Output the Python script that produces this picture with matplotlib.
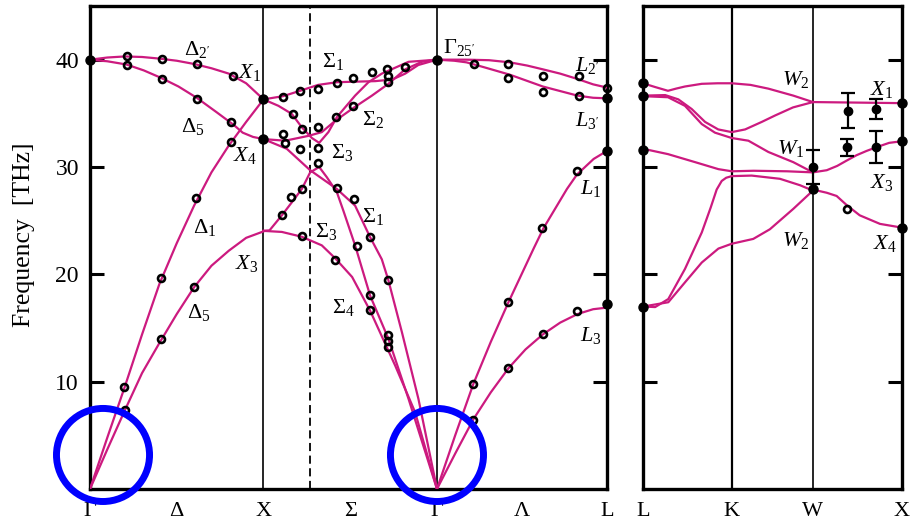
import matplotlib
matplotlib.use("Agg")
import matplotlib.pyplot as plt

plt.rcParams['font.family'] = 'serif'
plt.rcParams['font.serif'] = ['Liberation Serif', 'DejaVu Serif']
plt.rcParams['mathtext.fontset'] = 'custom'
plt.rcParams['mathtext.rm'] = 'Liberation Serif'
plt.rcParams['mathtext.it'] = 'Liberation Serif:italic'

PINK = '#cc1a7f'

# ---- path Gamma - X - K - Gamma - L (left panel), x in path units ----
left_ticks = [0.0, 0.5, 1.0, 1.5, 2.0, 2.49, 2.98]
left_tick_labels = ['Γ', 'Δ', 'X', 'Σ', 'Γ', 'Λ', 'L']
x_X, x_K, x_G, x_L = 1.0, 1.269, 2.0, 2.98

# Delta branches (Gamma -> X)
dlo_x = [0, 0.1, 0.2, 0.3, 0.4, 0.5, 0.6, 0.7, 0.8, 0.9, 1.0]
dlo_f = [40.0, 40.2, 40.3, 40.25, 40.1, 39.9, 39.6, 39.2, 38.7, 37.8, 36.3]
dto_x = [0, 0.1, 0.21, 0.31, 0.41, 0.51, 0.615, 0.73, 0.83, 0.88, 0.94, 1.0]
dto_f = [40.0, 39.85, 39.55, 39.0, 38.3, 37.5, 36.45, 35.1, 33.9, 33.2, 32.8, 32.6]
dla_x = [0, 0.1, 0.2, 0.3, 0.4, 0.5, 0.6, 0.7, 0.8, 0.9, 1.0]
dla_f = [0, 4.8, 9.5, 14.4, 19.1, 22.9, 26.4, 29.5, 32.0, 34.2, 36.3]
dta_x = [0, 0.1, 0.2, 0.3, 0.4, 0.5, 0.6, 0.7, 0.8, 0.9, 1.0]
dta_f = [0, 3.7, 7.3, 10.8, 13.6, 16.3, 18.8, 20.8, 22.2, 23.4, 24.0]

# Sigma branches (X -> K -> Gamma)
sa_x = [1.0, 1.113, 1.211, 1.315, 1.424, 1.528, 1.644, 1.742, 1.817, 1.892, 2.0]
sa_f = [36.3, 36.6, 37.1, 37.65, 37.9, 37.95, 38.0, 38.15, 38.7, 39.5, 40.0]
sb_x = [1.0, 1.086, 1.163, 1.221, 1.279, 1.321, 1.374, 1.423, 1.528, 1.605, 1.682, 1.836, 2.0]
sb_f = [36.3, 35.7, 34.95, 33.7, 32.7, 32.25, 33.25, 34.65, 36.65, 37.9, 38.7, 39.8, 40.0]
sc_x = [1.0, 1.125, 1.259, 1.336, 1.413, 1.518, 1.625, 1.72, 1.817, 1.913, 2.0]
sc_f = [32.6, 32.45, 32.9, 33.25, 34.3, 35.5, 36.65, 37.75, 39.1, 39.8, 40.0]
sd_x = [1.0, 1.134, 1.269, 1.423, 1.528, 1.615, 1.682, 1.719, 1.798, 1.893, 2.0]
sd_f = [32.6, 31.7, 29.7, 27.95, 26.4, 23.45, 21.4, 19.5, 14.6, 8.4, 0]
se_x = [1.0, 1.035, 1.106, 1.163, 1.221, 1.269, 1.321, 1.365, 1.423, 1.461, 1.528, 1.615, 1.72, 1.836, 2.0]
se_f = [24.05, 24.1, 25.5, 26.7, 27.95, 29.5, 30.0, 29.05, 27.65, 25.9, 22.7, 18.0, 14.0, 8.4, 0]
sf_x = [1.0, 1.106, 1.221, 1.336, 1.413, 1.511, 1.615, 1.759, 1.874, 2.0]
sf_f = [24.05, 23.95, 23.5, 22.7, 21.5, 19.75, 16.6, 11.5, 7.15, 0]

# Lambda branches (Gamma -> L)
l2_x = [2.0, 2.17, 2.3, 2.42, 2.52, 2.61, 2.71, 2.81, 2.9, 2.98]
l2_f = [40.0, 40.0, 39.95, 39.75, 39.45, 39.1, 38.7, 38.2, 37.7, 37.4]
l3p_x = [2.0, 2.1, 2.17, 2.27, 2.42, 2.61, 2.81, 2.9, 2.98]
l3p_f = [40.0, 39.9, 39.75, 39.3, 38.6, 37.5, 36.65, 36.45, 36.4]
l1_x = [2.0, 2.105, 2.21, 2.31, 2.412, 2.557, 2.614, 2.749, 2.807, 2.903, 2.98]
l1_f = [0, 5.0, 9.8, 13.7, 17.4, 22.4, 24.3, 27.95, 29.3, 30.75, 31.5]
l3_x = [2.0, 2.105, 2.21, 2.31, 2.412, 2.51, 2.61, 2.71, 2.81, 2.9, 2.98]
l3_f = [0, 3.3, 6.5, 9.0, 11.25, 13.0, 14.4, 15.5, 16.3, 16.75, 16.9]

# measured points (open rings)
ring_x = [0.212, 0.212, 0.413, 0.413, 0.615, 0.615, 0.826, 0.813, 0.813, 0.611,
          0.409, 0.409, 0.6, 0.196, 0.202,
          1.115, 1.211, 1.317, 1.423, 1.518, 1.625, 1.711, 1.72, 1.72, 1.817,
          1.172, 1.221, 1.317, 1.419, 1.518, 1.115, 1.125, 1.211, 1.317, 1.317,
          1.221, 1.159, 1.106, 1.221, 1.413, 1.423, 1.524, 1.615, 1.538, 1.717,
          1.615, 1.615, 1.717, 1.717, 1.717,
          2.215, 2.407, 2.407, 2.611, 2.611, 2.816, 2.816, 2.807, 2.608, 2.412,
          2.21, 2.21, 2.412, 2.611, 2.807, 2.98]
ring_f = [40.3, 39.5, 40.1, 38.2, 39.6, 36.35, 38.5, 34.2, 32.3, 27.1,
          19.7, 14.0, 18.85, 9.5, 7.35,
          36.55, 37.1, 37.3, 37.85, 38.3, 38.85, 39.1, 38.45, 37.9, 39.3,
          34.95, 33.5, 33.7, 34.65, 35.65, 33.1, 32.25, 31.7, 31.75, 30.4,
          27.95, 27.25, 25.5, 23.55, 21.3, 28.0, 27.0, 23.45, 22.6, 19.5,
          18.1, 16.7, 14.35, 13.8, 13.2,
          39.55, 39.55, 38.3, 38.45, 36.95, 38.45, 36.6, 29.6, 24.3, 17.4,
          9.8, 6.45, 11.25, 14.45, 16.6, 37.4]
# measured points (solid) at the zone points
solid_x = [0.0, 1.0, 1.0, 2.0, 2.98, 2.98, 2.98]
solid_f = [40.0, 36.3, 32.6, 40.0, 36.4, 31.5, 17.2]

# ---- path L - K - W - X (right panel) ----
right_ticks = [0.0, 0.513, 0.98, 1.494]
right_tick_labels = ['L', 'K', 'W', 'X']

r1_x = [0, 0.07, 0.144, 0.19, 0.242, 0.339, 0.43, 0.512, 0.62, 0.723, 0.867, 0.98]
r1_f = [37.8, 37.45, 37.1, 37.3, 37.5, 37.75, 37.8, 37.8, 37.65, 37.3, 36.65, 36.05]
r2_x = [0, 0.128, 0.204, 0.281, 0.358, 0.434, 0.512, 0.589, 0.685, 0.762, 0.865, 0.98]
r2_f = [36.65, 36.7, 36.3, 35.4, 34.2, 33.5, 33.25, 33.5, 34.2, 34.8, 35.55, 36.05]
r3_x = [0, 0.144, 0.242, 0.339, 0.415, 0.512, 0.608, 0.723, 0.867, 0.98]
r3_f = [36.6, 36.5, 35.7, 34.0, 33.2, 32.7, 32.45, 31.4, 30.45, 29.5]
r4_x = [0, 0.144, 0.301, 0.435, 0.512, 0.638, 0.831, 0.98]
r4_f = [31.7, 31.2, 30.45, 29.8, 29.6, 29.65, 29.6, 29.5]
r5_x = [0, 0.07, 0.146, 0.242, 0.339, 0.39, 0.425, 0.454, 0.48, 0.512, 0.627, 0.79, 0.906, 0.98]
r5_f = [17.0, 16.95, 17.7, 20.5, 23.9, 26.2, 27.9, 28.7, 29.0, 29.15, 29.2, 28.9, 28.3, 27.8]
r6_x = [0, 0.146, 0.242, 0.339, 0.435, 0.512, 0.636, 0.732, 0.867, 0.98]
r6_f = [17.0, 17.4, 19.25, 21.1, 22.4, 22.85, 23.3, 24.2, 26.1, 27.8]
wx1_x = [0.98, 1.494]
wx1_f = [36.05, 35.95]
wx3_x = [0.98, 1.06, 1.12, 1.175, 1.232, 1.29, 1.348, 1.42, 1.494]
wx3_f = [29.5, 29.7, 30.1, 30.6, 31.1, 31.5, 31.85, 32.25, 32.4]
wx4_x = [0.98, 1.06, 1.117, 1.175, 1.25, 1.367, 1.494]
wx4_f = [27.9, 27.6, 27.3, 26.45, 25.5, 24.7, 24.35]

r_solid_x = [0, 0, 0, 0, 1.494, 1.494, 1.494, 0.98]
r_solid_f = [37.85, 36.6, 31.6, 17.0, 35.95, 32.4, 24.35, 27.95]
r_err_x = [0.98, 1.181, 1.343, 1.179, 1.343]
r_err_f = [30.0, 35.25, 35.4, 31.85, 31.85]
r_err = [1.6, 1.65, 0.9, 0.8, 1.5]
r_ring_x = [1.179]
r_ring_f = [26.1]

left_curves = [(dlo_x, dlo_f), (dto_x, dto_f), (dla_x, dla_f), (dta_x, dta_f),
               (sa_x, sa_f), (sb_x, sb_f), (sc_x, sc_f), (sd_x, sd_f),
               (se_x, se_f), (sf_x, sf_f),
               (l2_x, l2_f), (l3p_x, l3p_f), (l1_x, l1_f), (l3_x, l3_f)]
right_curves = [(r1_x, r1_f), (r2_x, r2_f), (r3_x, r3_f), (r4_x, r4_f),
                (r5_x, r5_f), (r6_x, r6_f),
                (wx1_x, wx1_f), (wx3_x, wx3_f), (wx4_x, wx4_f)]

left_labels = [
    (r"$\Delta_{2'}$", 0.542, 41.1), (r"$X_1$", 0.854, 38.96),
    (r"$\Delta_5$", 0.525, 33.92), (r"$X_4$", 0.825, 31.22),
    (r"$\Delta_1$", 0.594, 24.51), (r"$X_3$", 0.836, 21.16),
    (r"$\Delta_5$", 0.559, 16.59),
    (r"$\Sigma_1$", 1.338, 39.98), (r"$\Sigma_2$", 1.569, 34.58),
    (r"$\Sigma_3$", 1.39, 31.5), (r"$\Sigma_1$", 1.569, 25.54),
    (r"$\Sigma_3$", 1.298, 24.14), (r"$\Sigma_4$", 1.396, 17.05),
    (r"$\Gamma_{25'}$", 2.036, 41.29), (r"$L_{2'}$", 2.797, 39.61),
    (r"$L_{3'}$", 2.797, 34.48), (r"$L_1$", 2.826, 28.15),
    (r"$L_3$", 2.826, 14.45),
]
right_labels = [
    (r"$W_2$", 0.802, 38.3), (r"$X_1$", 1.309, 37.37),
    (r"$W_1$", 0.773, 31.87), (r"$X_3$", 1.309, 28.7),
    (r"$W_2$", 0.802, 23.3), (r"$X_4$", 1.326, 23.0),
]

fig = plt.figure(figsize=(9.15, 5.2), dpi=100)
ax1 = fig.add_axes([90 / 915, 31 / 520, 517 / 915, 483 / 520])
ax2 = fig.add_axes([643 / 915, 31 / 520, 259 / 915, 483 / 520])

for ax, curves, ticks, labels, xmax in [
        (ax1, left_curves, left_ticks, left_tick_labels, x_L),
        (ax2, right_curves, right_ticks, right_tick_labels, right_ticks[-1])]:
    for x, f in curves:
        ax.plot(x, f, color=PINK, lw=1.6, zorder=3)
    ax.set_xlim(0, xmax)
    ax.set_ylim(0, 45)
    ax.set_xticks(ticks)
    ax.set_xticklabels(labels, fontsize=16)
    ax.tick_params(axis='x', length=0, pad=9)
    ax.set_yticks([10, 20, 30, 40])
    ax.tick_params(axis='y', direction='in', length=10, width=2.2,
                   left=True, right=True, labelsize=17, pad=8)
    for s in ax.spines.values():
        s.set_linewidth(2.4)

ax2.set_yticklabels([])
for t in ax1.yaxis.get_major_ticks():
    if t.get_loc() == 40:
        t.tick2line.set_visible(False)

# zone boundaries
ax1.axvline(x_X, color='k', lw=1.2, zorder=1)
ax1.axvline(x_G, color='k', lw=1.2, zorder=1)
ax1.axvline(x_K, color='k', lw=1.3, ls=(0, (4.5, 2.5)), zorder=1)
ax2.axvline(right_ticks[1], color='k', lw=1.6, zorder=1)
ax2.axvline(right_ticks[2], color='k', lw=1.2, zorder=1)

# experimental points
ax1.plot(ring_x, ring_f, 'o', ms=5, mfc='none', mec='k', mew=1.9, zorder=4, clip_on=False)
ax1.plot(solid_x, solid_f, 'o', ms=6.5, color='k', zorder=5, clip_on=False)
ax2.plot(r_solid_x, r_solid_f, 'o', ms=6.5, color='k', zorder=5, clip_on=False)
ax2.errorbar(r_err_x, r_err_f, yerr=r_err, fmt='o', ms=6, color='k', ecolor='k',
             elinewidth=1.6, capsize=5, capthick=1.6, zorder=5)
ax2.plot(r_ring_x, r_ring_f, 'o', ms=5, mfc='none', mec='k', mew=1.9, zorder=4)

for ax, labs in [(ax1, left_labels), (ax2, right_labels)]:
    for txt, x, y in labs:
        ax.text(x, y - 0.65, txt, fontsize=16, ha='left', va='baseline', zorder=6)

# highlight the linear region at Gamma
ax1.scatter([0.075, 2.0], [3.17, 3.17], s=67 ** 2, facecolors='none',
            edgecolors='#0000ff', linewidths=5, zorder=10, clip_on=False)

fig.text(24 / 915, 1 - 235 / 520, 'Frequency  [THz]', rotation=90,
         ha='center', va='center', fontsize=18.5)

fig.savefig('out.png', dpi=100)
